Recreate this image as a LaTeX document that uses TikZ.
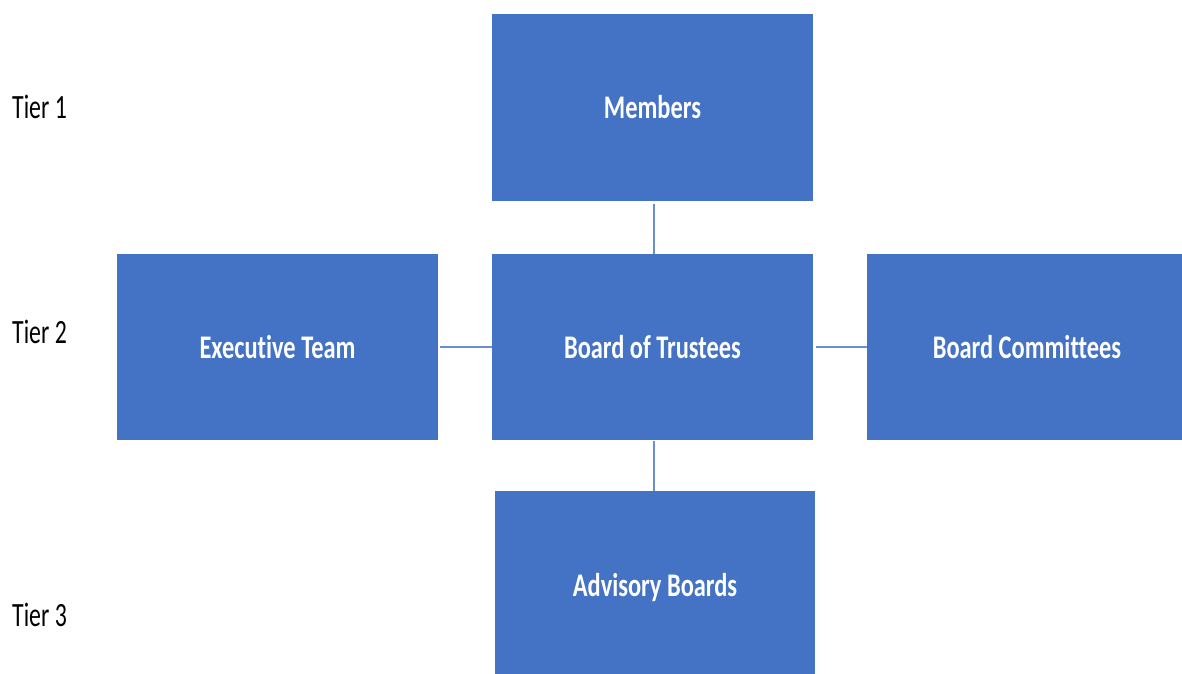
\documentclass[tikz,border=0pt]{standalone}
\usepackage{fontspec}
\setmainfont{Carlito}
\newfontfamily\boxfont[FakeStretch=0.74, Ligatures={NoCommon}]{Carlito}
\newfontfamily\tierfont[FakeStretch=0.7, Ligatures={NoCommon}]{Carlito}
\definecolor{boxblue}{HTML}{4472C4}
\definecolor{lineblue}{HTML}{6A8FD0}
\tikzset{
  orgbox/.style={fill=boxblue, draw=none, minimum width=321pt, minimum height=187pt, inner sep=0pt,
    text=white, font=\boxfont\bfseries\fontsize{33}{36}\selectfont},
  tierlabel/.style={anchor=west, inner sep=0pt, text=black, font=\tierfont\fontsize{34}{38}\selectfont},
  link/.style={draw=lineblue, line width=1.3pt}
}
\begin{document}
\begin{tikzpicture}[x=1pt,y=-1pt]
\useasboundingbox (0,0) rectangle (1182,673);
\clip (0,0) rectangle (1182,673);
\fill[white] (0,0) rectangle (1182,673);
\node[orgbox] (mem) at (652.5,107.5) {Members};
\node[orgbox, minimum height=186pt] (exe) at (277.5,347) {Executive Team};
\node[orgbox, minimum height=186pt] (bot) at (652.5,347) {Board of Trustees};
\node[orgbox, minimum height=186pt, minimum width=320pt] (com) at (1027,347) {Board Committees};
\node[orgbox, minimum width=320pt, minimum height=194pt] (adv) at (655,588) {Advisory Boards};
\node[tierlabel] (t1) at (12,107) {Tier 1};
\node[tierlabel] (t2) at (12,332) {Tier 2};
\node[tierlabel] (t3) at (12,615) {Tier 3};
\draw[link, shorten <=3pt] (mem.south -| 654,0) -- (bot.north -| 654,0);
\draw[link, shorten <=2pt] (exe.east) -- (bot.west);
\draw[link, shorten <=3pt] (bot.east) -- (com.west);
\draw[link, shorten <=1pt] (bot.south -| 654,0) -- (adv.north -| 654,0);
\end{tikzpicture}
\end{document}
